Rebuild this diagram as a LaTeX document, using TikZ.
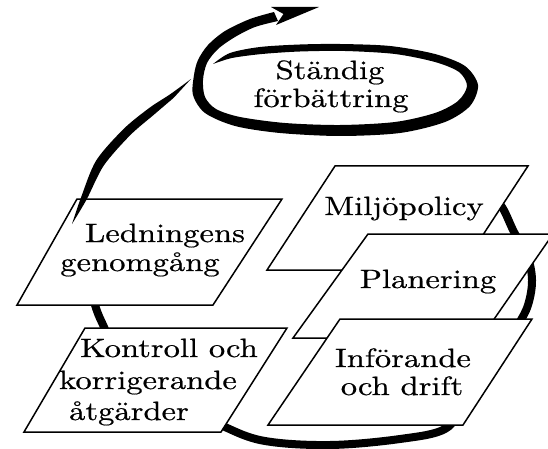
\documentclass[tikz,border=0pt]{standalone}
\usepackage{fontspec}
\setmainfont{lmroman10-regular.otf}[FakeStretch=1.23, FakeBold=0.6]
\begin{document}
\begin{tikzpicture}[x=1pt,y=-1pt,
  box/.style={draw=black, fill=white, line width=1.5pt, line join=miter},
  txt/.style={anchor=base, inner sep=0pt, font=\fontsize{26.5}{31}\selectfont},
  arcline/.style={draw=black, line width=8pt, line cap=round},
  ink/.style={fill=black}]
\useasboundingbox (0,0) rectangle (548,449);

% big cycle arc (behind the boxes)
\draw[arcline] plot[smooth, tension=0.6] coordinates {(488,192) (502,207) (514,232) (527,255) (532,280) (528,305) (518,325) (502,350) (482,378) (462,405) (445,429) (400,439) (330,445) (265,441) (225,427) (195,410) (150,385) (115,350) (104,327) (95,305) (84,262) (80,225)};

% right boxes
\draw[box] (335,166) -- (528,166) -- (460,270) -- (267,270) -- cycle;
\draw[box] (368,234) -- (553,234) -- (481,338) -- (293,338) -- cycle;
\draw[box] (340,319) -- (532,319) -- (463,425) -- (268,425) -- cycle;
% left boxes
\draw[box] (77,199) -- (282,199) -- (213,305) -- (17,305) -- cycle;
\draw[box] (85,328) -- (287,328) -- (221,432) -- (24,432) -- cycle;

% tapered upper-left part of the cycle arc
\fill[ink] plot[smooth] coordinates {(72,224) (81.3,196.7) (96.2,160.5) (123.8,128.8) (149.5,107.8) (170.4,94.1) (191,79)}
  -- plot[smooth] coordinates {(173.6,97.9) (154.5,114.2) (130.2,135.2) (103.8,165.5) (86.7,199.3) (72,224)} -- cycle;

% spiral loop around "Ständig förbättring" with arrow
\fill[ink] plot[smooth, tension=0.5] coordinates {(213,64) (230,53) (260,47) (300,44.5) (340,44) (390,46) (435,54) (465,66) (478,85) (470,106) (445,122) (400,133) (340,136) (280,133) (235,126) (205,113) (193,95) (194,75) (198,60) (208,45) (225,31) (250,19) (274,12)}
  -- plot[smooth, tension=0.5] coordinates {(278,21) (255,27) (235,37) (218,49) (207,63) (203,80) (205,97) (216,109) (240,117) (285,123) (340,125) (395,122) (435,113) (458,101) (467,86) (459,72) (435,62) (395,54) (345,51) (300,51.5) (262,54) (232,58) (213,64)} -- cycle;
\fill[ink] (319,7) -- (271,7) -- (283.5,14) -- (276,25) -- cycle;

% labels
\node[txt] (st1) at (330,79) {Ständig};
\node[txt] (st2) at (331,107) {förbättring};
\node[txt] (mp) at (404,215) {Miljöpolicy};
\node[txt] (pl) at (428,288) {Planering};
\node[txt] (in1) at (403,367) {Införande};
\node[txt] (in2) at (402,395) {och drift};
\node[txt] (le1) at (165,242) {Ledningens};
\node[txt] (le2) at (140,271) {genomgång};
\node[txt] (ko1) at (169,357) {Kontroll och};
\node[txt] (ko2) at (148,389) {korrigerande};
\node[txt] (ko3) at (129,420) {åtgärder};
\end{tikzpicture}
\end{document}
